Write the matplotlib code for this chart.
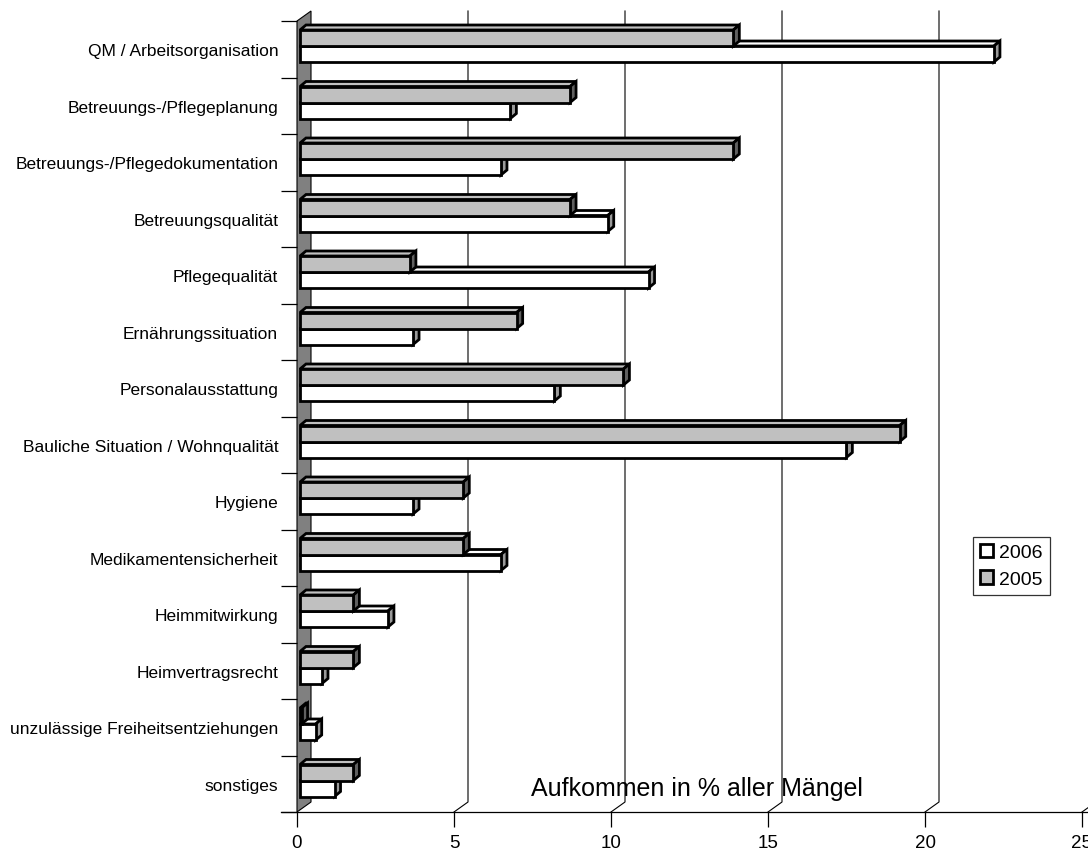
import matplotlib
matplotlib.use('Agg')
from matplotlib import pyplot as plt
from matplotlib.patches import Polygon, Patch

plt.rcParams['font.family'] = ['Liberation Sans', 'DejaVu Sans']

categories = ['QM / Arbeitsorganisation', 'Betreuungs-/Pflegeplanung',
              'Betreuungs-/Pflegedokumentation', 'Betreuungsqualität',
              'Pflegequalität', 'Ernährungssituation', 'Personalausstattung',
              'Bauliche Situation / Wohnqualität', 'Hygiene',
              'Medikamentensicherheit', 'Heimmitwirkung', 'Heimvertragsrecht',
              'unzulässige Freiheitsentziehungen', 'sonstiges']
values_2005 = [13.8, 8.6, 13.8, 8.6, 3.5, 6.9, 10.3, 19.1, 5.2, 5.2, 1.7, 1.7, 0.05, 1.7]
values_2006 = [22.1, 6.7, 6.4, 9.8, 11.1, 3.6, 8.1, 17.4, 3.6, 6.4, 2.8, 0.7, 0.5, 1.1]
xticks = [0, 5, 10, 15, 20, 25]

W, H = 1088, 854
fig = plt.figure(figsize=(W / 100, H / 100), dpi=100)
# front plane: x 0..25 -> px 297..1082, rows -> px 22..813
ax = fig.add_axes([297 / W, 1 - 813 / H, 785 / W, 791 / H])
n = len(categories)
ax.set_xlim(0, 25)
ax.set_ylim(n, 0)
ux = 785 / 25.0
uy = 791 / n

# depth of the 3d box
DX, DY = 14 / ux, -10 / uy

for s in ax.spines.values():
    s.set_visible(False)

# left wall
wall = Polygon([(0, 0), (DX, DY), (DX, n + DY), (0, n)], closed=True,
               facecolor='#808080', edgecolor='black', lw=0.8, clip_on=False, zorder=1)
ax.add_patch(wall)

# back gridlines
for x in xticks[1:]:
    ax.plot([x + DX, x + DX, x], [DY, n + DY, n], color='black', lw=0.8,
            clip_on=False, zorder=1)

# floor front line
ax.plot([-16 / ux, (W - 297) / ux], [n, n], color='black', lw=0.9, clip_on=False, zorder=2)

# bars
x0 = 3 / ux
bh = 16 / uy
ddx, ddy = 6 / ux, -5 / uy
lw = 2.0


def draw_bar(top, val, face, side, z):
    x1 = x0 + val
    bot = top + bh
    ax.add_patch(Polygon([(x0, top), (x0 + ddx, top + ddy), (x1 + ddx, top + ddy), (x1, top)],
                         closed=True, facecolor=face, edgecolor='black', lw=lw,
                         joinstyle='miter', clip_on=False, zorder=z))
    ax.add_patch(Polygon([(x1, top), (x1 + ddx, top + ddy), (x1 + ddx, bot + ddy), (x1, bot)],
                         closed=True, facecolor=side, edgecolor='black', lw=lw,
                         joinstyle='miter', clip_on=False, zorder=z))
    ax.barh(top + bh / 2, val, height=bh, left=x0, color=face, edgecolor='black',
            linewidth=lw, zorder=z, clip_on=False)


for i in range(n):
    draw_bar(i + 25 / uy, values_2006[i], 'white', '#9a9a9a', 3 + i * 0.01)
    draw_bar(i + 9 / uy, values_2005[i], '#c0c0c0', '#606060', 3.005 + i * 0.01)

# ticks
ax.set_yticks(range(n + 1))
ax.set_yticklabels([])
ax.set_yticks([i + 0.5 for i in range(n)], minor=True)
ax.set_yticklabels(categories, minor=True, fontsize=12.5)
ax.tick_params(axis='y', which='major', length=11.5, width=0.9, direction='out')
ax.tick_params(axis='y', which='minor', length=0, pad=13.5)
ax.set_xticks(xticks)
ax.set_xticklabels([str(t) for t in xticks], fontsize=13.5)
ax.tick_params(axis='x', which='major', length=10.8, width=0.9, direction='out', pad=5)

ax.text((697 - 297) / ux, (796 - 22) / uy, 'Aufkommen in % aller Mängel',
        fontsize=18, ha='center', va='baseline', zorder=5)

handles = [Patch(facecolor='white', edgecolor='black', lw=2, label='2006'),
           Patch(facecolor='#c0c0c0', edgecolor='black', lw=2, label='2005')]
leg = fig.legend(handles=handles, loc='upper left', bbox_to_anchor=(973 / W, 1 - 538 / H),
                 fontsize=14, frameon=True, fancybox=False, handlelength=0.7,
                 handleheight=0.7, handletextpad=0.3, borderpad=0.35, labelspacing=0.45,
                 borderaxespad=0)
leg.get_frame().set_edgecolor('black')
leg.get_frame().set_linewidth(0.9)

fig.savefig('out.png', dpi=100)
